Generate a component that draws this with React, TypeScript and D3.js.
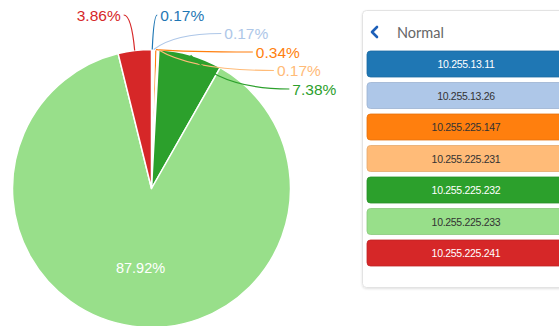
import React from "react";
import * as d3 from "d3";

// Share of traffic per host (percent)
const hosts = [
  "10.255.13.11",
  "10.255.13.26",
  "10.255.225.147",
  "10.255.225.231",
  "10.255.225.232",
  "10.255.225.233",
  "10.255.225.241",
];
const shares = [0.17, 0.17, 0.34, 0.17, 7.38, 87.92, 3.86];
const colors = ["#1f77b4", "#aec7e8", "#ff7f0e", "#ffbb78", "#2ca02c", "#98df8a", "#d62728"];
const darkText = [false, true, true, true, false, true, false];
const panelTitle = "Normal";

const W = 559;
const H = 326;
const cx = 151.5;
const cy = 188.5;
const R = 139;

export default function App() {
  const pie = d3
    .pie<number>()
    .sort(null)
    .value((d) => d)
    .startAngle(0)
    .endAngle(2 * Math.PI);
  const arcs = pie(shares);
  const arcGen = d3.arc<d3.PieArcDatum<number>>().innerRadius(0).outerRadius(R);

  // Outside labels for the small slices: stacked vertically, placed along a wider circle
  const insideIdx = shares.indexOf(d3.max(shares) as number);
  const R2 = 170;
  const rowGap = 18.5;
  const topY = 15;
  type Lab = { i: number; side: number; y: number; x: number; sx: number; sy: number };
  const labels: Lab[] = [];
  let rightCount = 0;
  arcs.forEach((a, i) => {
    if (i === insideIdx) return;
    const mid = (a.startAngle + a.endAngle) / 2;
    const side = Math.sin(mid) >= 0 ? 1 : -1;
    const sx = cx + R * Math.sin(mid);
    const sy = cy - R * Math.cos(mid);
    const y = side > 0 ? topY + rowGap * rightCount++ : topY;
    const dy = y - cy;
    const off = Math.sqrt(Math.max(0, R2 * R2 - dy * dy));
    const x = cx + side * Math.max(off, Math.abs(sx - cx) + (side > 0 ? 5 : 11));
    labels.push({ i, side, y, x, sx, sy });
  });

  const insideArc = arcs[insideIdx];
  const insideMid = (insideArc.startAngle + insideArc.endAngle) / 2;
  const inR = R * 0.575;

  const btnX = 367;
  const btnW = 200;
  const btnH = 26;
  const btnTop = 51;
  const btnStep = 31.5;

  return (
    <svg width={W} height={H} style={{ position: "absolute", left: 0, top: 0, background: "#fff" }}>
      <defs>
        <filter id="panelShadow" x="-10%" y="-10%" width="120%" height="120%">
          <feDropShadow dx="0" dy="1" stdDeviation="1.2" floodColor="#000" floodOpacity="0.12" />
        </filter>
      </defs>
      <g>
        <g transform={`translate(${cx},${cy})`}>
          {arcs.map((a, i) => (
            <path key={i} d={arcGen(a) as string} fill={colors[i]} stroke="#fff" strokeWidth={1.5} strokeLinejoin="round" />
          ))}
        </g>
        <text
          x={cx + inR * Math.sin(insideMid)}
          y={cy - inR * Math.cos(insideMid)}
          textAnchor="middle"
          dominantBaseline="central"
          fill="#fff"
          fontFamily="Liberation Sans, Arial, sans-serif"
          fontSize={14.5}
        >
          {shares[insideIdx].toFixed(2)}%
        </text>
        {labels.map((l) => {
          const ex = l.x;
          const ctrlX = l.sx + (ex - l.sx) * 0.3;
          const d = `M${l.sx},${l.sy} Q${ctrlX},${l.y} ${ex},${l.y}`;
          return (
            <g key={l.i}>
              <path d={d} fill="none" stroke={colors[l.i]} strokeWidth={1.2} />
              <text
                x={l.x + l.side * 3}
                y={l.y}
                textAnchor={l.side > 0 ? "start" : "end"}
                dominantBaseline="central"
                fill={colors[l.i]}
                fontFamily="Liberation Sans, Arial, sans-serif"
                fontSize={15.5}
              >
                {shares[l.i].toFixed(2)}%
              </text>
            </g>
          );
        })}
      </g>
      <g>
        <rect x={362.5} y={10.5} width={230} height={277} rx={4} fill="#fff" stroke="#e3e3e3" filter="url(#panelShadow)" />
        <path d="M377,27 L372,32 L377,37" fill="none" stroke="#1d5fb8" strokeWidth={2.6} strokeLinecap="round" strokeLinejoin="round" />
        <text x={397} y={32} dominantBaseline="central" fill="#666" fontFamily="Lato, Noto Sans, sans-serif" fontSize={14.5}>
          {panelTitle}
        </text>
        {hosts.map((h, i) => {
          const y = btnTop + i * btnStep;
          return (
            <g key={h}>
              <rect x={btnX} y={y} width={btnW} height={btnH} rx={3.5} fill={colors[i]} stroke={d3.color(colors[i])!.darker(0.3).toString()} strokeWidth={0.8} />
              <text
                x={btnX + 99}
                y={y + btnH / 2}
                textAnchor="middle"
                dominantBaseline="central"
                fill={darkText[i] ? "#333" : "#fff"}
                fontFamily="Liberation Sans, Arial, sans-serif"
                fontSize={10.5}
                letterSpacing={-0.3}
              >
                {h}
              </text>
            </g>
          );
        })}
      </g>
    </svg>
  );
}
